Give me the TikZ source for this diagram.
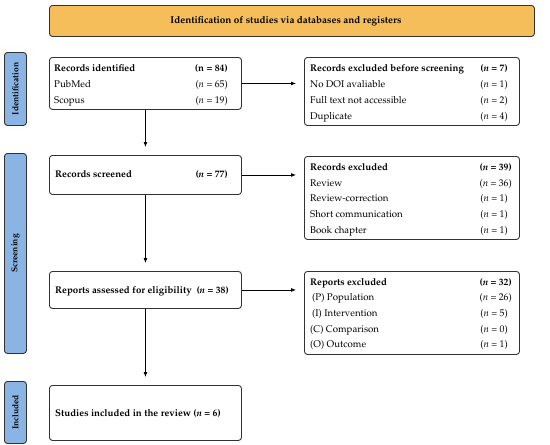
\documentclass[tikz,border=0pt]{standalone}
\usepackage[T1]{fontenc}
\usepackage{mathpazo}
\usetikzlibrary{arrows.meta}
\definecolor{orangefill}{RGB}{246,190,90}
\definecolor{bluefill}{RGB}{138,180,228}
\definecolor{edge}{RGB}{50,50,50}
\tikzset{
  box/.style={draw=edge, line width=0.9pt, rounded corners=3pt, fill=white, inner sep=0pt},
  side/.style={draw=edge, line width=0.9pt, rounded corners=3pt, fill=bluefill, inner sep=0pt},
  title/.style={draw=edge, line width=0.9pt, rounded corners=3pt, fill=orangefill, inner sep=0pt},
  lbl/.style={anchor=base west, inner sep=0pt, font=\fontsize{9.7}{11}\selectfont},
  cnt/.style={anchor=base east, inner sep=0pt, font=\fontsize{9.7}{11}\selectfont},
  sidetxt/.style={rotate=90, inner sep=0pt, font=\fontsize{8.5}{10}\selectfont\bfseries},
  arr/.style={-{Latex[length=5pt,width=4pt]}, line width=0.8pt, draw=black, shorten >=8pt}
}
\newcommand{\nn}{\textit{n}}
\begin{document}
\begin{tikzpicture}[x=1pt,y=-1pt]
\useasboundingbox (0,0) rectangle (550,445);
% title
\node[title, anchor=north west, minimum width=485pt, minimum height=31pt] (title) at (49,5) {};
\node[inner sep=0pt, font=\fontsize{9.9}{11}\selectfont\bfseries] (titletxt) at ([xshift=-6pt]title.center) {Identification of studies via databases and registers};
% side labels
\node[side, anchor=north west, minimum width=22pt, minimum height=73pt] (sid) at (4,52) {};
\node[sidetxt] (sidt) at (sid.center) {Identification};
\node[side, anchor=north west, minimum width=22pt, minimum height=200pt] (sscr) at (4,153) {};
\node[sidetxt] (sscrt) at (sscr.center) {Screening};
\node[side, anchor=north west, minimum width=22pt, minimum height=62pt] (sinc) at (4,381) {};
\node[sidetxt] (sinct) at (sinc.center) {Included};
% left boxes
\node[box, anchor=north west, minimum width=192pt, minimum height=52pt] (b1) at (49,57) {};
\node[lbl] (b1a) at (54,71) {\textbf{Records identified}};
\node[cnt] (b1ac) at (228,71) {\textbf{(n = 84)}};
\node[lbl] (b1b) at (54,87) {PubMed};
\node[cnt] (b1bc) at (228,87) {(\nn{} = 65)};
\node[lbl] (b1c) at (54,103) {Scopus};
\node[cnt] (b1cc) at (228,103) {(\nn{} = 19)};

\node[box, anchor=north west, minimum width=192pt, minimum height=39pt] (b2) at (49,155) {};
\node[lbl] (b2a) at (55,177) {\textbf{Records screened}};
\node[cnt] (b2ac) at (228,177) {\textbf{(\nn{} = 77)}};

\node[box, anchor=north west, minimum width=192pt, minimum height=37pt] (b3) at (49,271) {};
\node[lbl] (b3a) at (55,293) {\textbf{Reports assessed for eligibility}};
\node[cnt] (b3ac) at (229,293) {\textbf{(\nn{} = 38)}};

\node[box, anchor=north west, minimum width=192pt, minimum height=55pt] (b4) at (49,385) {};
\node[lbl] (b4a) at (55,416) {\textbf{Studies included in the review (\nn{} = 6)}};

% right boxes
\node[box, anchor=north west, minimum width=215pt, minimum height=68pt] (r1) at (304,57) {};
\node[lbl] (r1a) at (310,71) {\textbf{Records excluded before screening}};
\node[cnt] (r1ac) at (508,71) {\textbf{(\nn{} = 7)}};
\node[lbl] (r1b) at (310,87) {No DOI avaliable};
\node[cnt] (r1bc) at (508,87) {(\nn{} = 1)};
\node[lbl] (r1c) at (310,103) {Full text not accessible};
\node[cnt] (r1cc) at (508,103) {(\nn{} = 2)};
\node[lbl] (r1d) at (310,119) {Duplicate};
\node[cnt] (r1dc) at (508,119) {(\nn{} = 4)};

\node[box, anchor=north west, minimum width=215pt, minimum height=83pt] (r2) at (304,156) {};
\node[lbl] (r2a) at (310,170) {\textbf{Records excluded}};
\node[cnt] (r2ac) at (512,170) {\textbf{(\nn{} = 39)}};
\node[lbl] (r2b) at (310,186) {Review};
\node[cnt] (r2bc) at (512,186) {(\nn{} = 36)};
\node[lbl] (r2c) at (310,201.5) {Review-correction};
\node[cnt] (r2cc) at (508,201.5) {(\nn{} = 1)};
\node[lbl] (r2d) at (310,217) {Short communication};
\node[cnt] (r2dc) at (508,217) {(\nn{} = 1)};
\node[lbl] (r2e) at (310,233) {Book chapter};
\node[cnt] (r2ec) at (508,233) {(\nn{} = 1)};

\node[box, anchor=north west, minimum width=215pt, minimum height=83pt] (r3) at (304,271) {};
\node[lbl] (r3a) at (310,285) {\textbf{Reports excluded}};
\node[cnt] (r3ac) at (512,285) {\textbf{(\nn{} = 32)}};
\node[lbl] (r3b) at (312,300.5) {(P) Population};
\node[cnt] (r3bc) at (512,300.5) {(\nn{} = 26)};
\node[lbl] (r3c) at (312,316) {(I) Intervention};
\node[cnt] (r3cc) at (508,316) {(\nn{} = 5)};
\node[lbl] (r3d) at (310,332) {(C) Comparison};
\node[cnt] (r3dc) at (508,332) {(\nn{} = 0)};
\node[lbl] (r3e) at (310,347.5) {(O) Outcome};
\node[cnt] (r3ec) at (508,347.5) {(\nn{} = 1)};

% connectors
\draw[arr] (b1.south) -- (b2.north);
\draw[arr] (b2.south) -- (b3.north);
\draw[arr] (b3.south) -- (b4.north);
\draw[arr] (b1.east) -- (r1.west |- b1.east);
\draw[arr] (b2.east) -- (r2.west |- b2.east);
\draw[arr] (b3.east) -- (r3.west |- b3.east);
\end{tikzpicture}
\end{document}
